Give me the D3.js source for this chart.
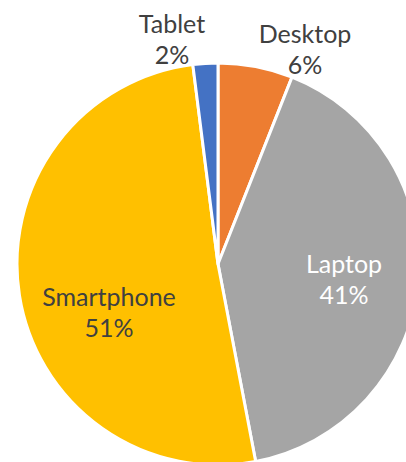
<!DOCTYPE html>
<html lang="en">
<head>
<meta charset="utf-8">
<title>Device Share Pie</title>
<script src="https://d3js.org/d3.v7.min.js"></script>
<style>
  body { margin: 0; background: #fff; }
  .label { font-family: Lato, "Open Sans", sans-serif; font-size: 25px; }
</style>
</head>
<body>
<div id="vis"></div>
<script>
const categories = ["Desktop", "Laptop", "Smartphone", "Tablet"];
const shares = [6, 41, 51, 2];
const pctLabels = ["6%", "41%", "51%", "2%"];
const colors = ["#ED7D31", "#A5A5A5", "#FFC000", "#4472C4"];

const width = 406, height = 462;
const cx = 218, cy = 264, radius = 201;
const lineGap = 31;

// label anchors relative to pie centre (Excel "best fit" places them by hand)
const labelLayout = {
  Desktop:    { dx: 87,   dy: -206, fill: "#404040" },
  Laptop:     { dx: 126,  dy: 24,   fill: "#ffffff" },
  Smartphone: { dx: -109, dy: 57,   fill: "#404040" },
  Tablet:     { dx: -46,  dy: -216, fill: "#404040" }
};

const data = categories.map((c, i) => ({ name: c, value: shares[i], pct: pctLabels[i], color: colors[i] }));

const svg = d3.select("#vis").append("svg")
  .attr("width", width)
  .attr("height", height);

const g = svg.append("g").attr("transform", "translate(" + cx + "," + cy + ")");

const pie = d3.pie().value(d => d.value).sort(null);
const arc = d3.arc().innerRadius(0).outerRadius(radius);

g.selectAll("path")
  .data(pie(data))
  .enter()
  .append("path")
  .attr("d", arc)
  .attr("fill", d => d.data.color)
  .attr("stroke", "#fff")
  .attr("stroke-width", 3)
  .attr("stroke-linejoin", "round");

const labels = g.selectAll(".label")
  .data(data)
  .enter()
  .append("text")
  .attr("class", "label")
  .attr("text-anchor", "middle")
  .attr("fill", d => labelLayout[d.name].fill);

labels.append("tspan")
  .attr("x", d => labelLayout[d.name].dx)
  .attr("y", d => labelLayout[d.name].dy - lineGap / 2)
  .text(d => d.name);

labels.append("tspan")
  .attr("x", d => labelLayout[d.name].dx)
  .attr("y", d => labelLayout[d.name].dy + lineGap / 2)
  .text(d => d.pct);
</script>
</body>
</html>
